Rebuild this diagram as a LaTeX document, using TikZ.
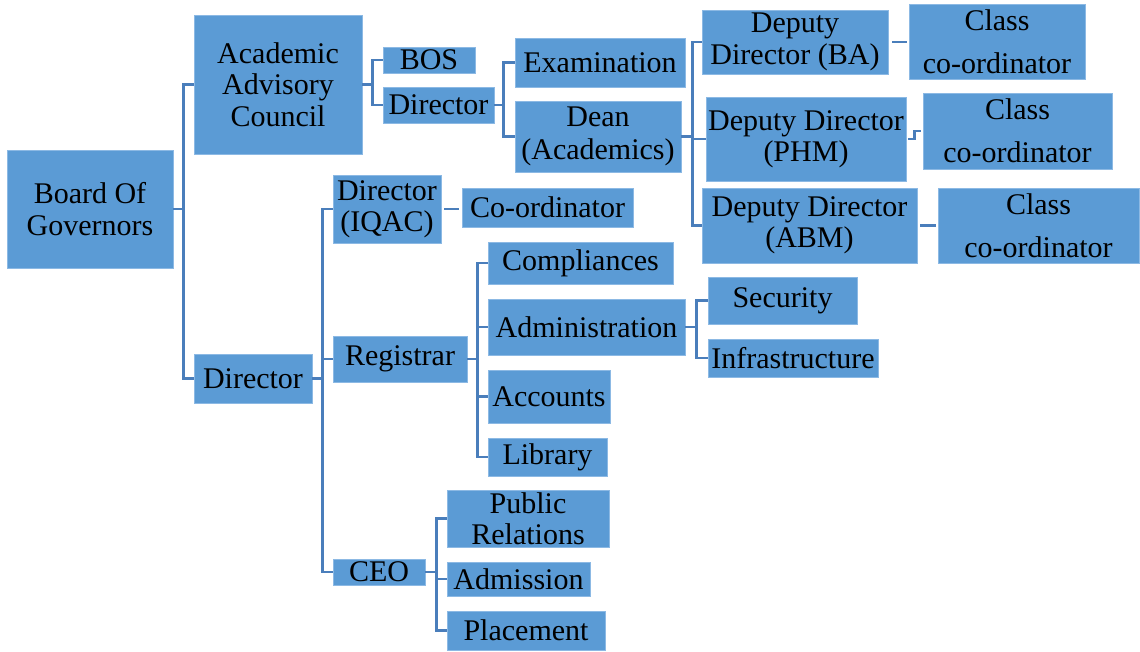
\documentclass[tikz,border=0pt]{standalone}
\usepackage{fontspec}
\setmainfont{Liberation Serif}
\definecolor{boxfill}{RGB}{91,155,213}
\definecolor{boxline}{RGB}{140,185,228}
\definecolor{connline}{RGB}{74,126,187}
\tikzset{
  orgbox/.style={rectangle, fill=boxfill, draw=boxline, line width=0.6pt, inner sep=0pt, align=center,
    font=\fontsize{22.5}{23.5}\selectfont, text=black},
  conn/.style={draw=connline, line width=2pt},
}
\newcommand\orgnode[6]{\node[orgbox, minimum width={(#4-#2)*0.75pt}, minimum height={(#5-#3)*0.75pt}] (#1) at ({(#2+#4)/2},{(#3+#5)/2}) {#6};}
\begin{document}
\begin{tikzpicture}[x=0.75pt,y=-0.75pt]
\useasboundingbox (0,0) rectangle (1140,651);
% nodes
\orgnode{bog}{7}{150}{173}{268}{Board Of\\Governors}
\orgnode{aac}{194}{15}{362}{154}{Academic\\Advisory\\Council}
\orgnode{dirl}{194}{354}{312}{403}{Director}
\orgnode{bos}{383}{47}{475}{73}{BOS}
\orgnode{diru}{383}{87}{494}{123}{Director}
\orgnode{exam}{515}{38}{685}{87}{Examination}
\orgnode{dean}{515}{101}{681}{172}{Dean\\[1.5pt](Academics)}
\orgnode{ba}{702}{10}{888}{74}{Deputy\\Director (BA)}
\orgnode{phm}{706}{97}{906}{181}{Deputy Director\\(PHM)}
\orgnode{abm}{702}{188}{917}{263}{Deputy Director\\(ABM)}
\orgnode{cc1}{909}{4}{1085}{79}{Class\\[9pt]co-ordinator}
\orgnode{cc2}{923}{93}{1112}{169}{Class\\[9pt]co-ordinator}
\orgnode{cc3}{938}{188}{1139}{263}{Class\\[9pt]co-ordinator}
\orgnode{iqac}{333}{175}{441}{243}{Director\\(IQAC)}
\orgnode{coord}{462}{188}{633}{227}{Co-ordinator}
\orgnode{reg}{333}{336}{467}{382}{Registrar}
\orgnode{comp}{488}{242}{673}{284}{Compliances}
\orgnode{admin}{488}{299}{685}{355}{Administration}
\orgnode{acc}{488}{370}{610}{423}{Accounts}
\orgnode{lib}{488}{438}{607}{476}{Library}
\orgnode{sec}{708}{277}{857}{324}{Security}
\orgnode{infra}{708}{339}{878}{377}{Infrastructure}
\orgnode{ceo}{333}{559}{425}{585}{CEO}
\orgnode{pr}{447}{490}{609}{547}{Public\\Relations}
\orgnode{adm}{447}{562}{590}{596}{Admission}
\orgnode{plc}{447}{611}{605}{650}{Placement}
% connectors
\draw[conn] (bog.east) -- ++(10,0) |- (aac.west);
\draw[conn] (bog.east) -- ++(10,0) |- (dirl.west);
\draw[conn] (aac.east) -- ++(10,0) |- (bos.west);
\draw[conn] (aac.east) -- ++(10,0) |- (diru.west);
\draw[conn] (diru.east) -- ++(9,0) |- (exam.west);
\draw[conn] (diru.east) -- ++(9,0) |- (dean.west);
\draw[conn] (dean.east) -- ++(11,0) |- (ba.west);
\draw[conn] (dean.east) -- ++(11,0) |- (phm.west);
\draw[conn] (dean.east) -- ++(11,0) |- (abm.west);
\draw[conn, shorten <=3pt, shorten >=1.5pt] (ba.east) -- (ba.east -| cc1.west);
\draw[conn, shorten <=1.5pt, shorten >=1pt] (phm.east) -- ++(8,0) |- (cc2.west);
\draw[conn, shorten <=2pt, shorten >=1.5pt] (abm.east) -- (abm.east -| cc3.west);
\draw[conn] (dirl.east) -- ++(10,0) |- (iqac.west);
\draw[conn] (dirl.east) -- ++(10,0) |- (reg.west);
\draw[conn] (dirl.east) -- ++(10,0) |- (ceo.west);
\draw[conn, shorten <=2pt, shorten >=2pt] (iqac.east) -- (iqac.east -| coord.west);
\draw[conn] (reg.east) -- ++(10,0) |- (comp.west);
\draw[conn] (reg.east) -- ++(10,0) |- (admin.west);
\draw[conn] (reg.east) -- ++(10,0) |- (acc.west);
\draw[conn] (reg.east) -- ++(10,0) |- (lib.west);
\draw[conn] (admin.east) -- ++(11,0) |- (sec.west);
\draw[conn] (admin.east) -- ++(11,0) |- (infra.west);
\draw[conn] (ceo.east) -- ++(11,0) |- (pr.west);
\draw[conn] (ceo.east) -- ++(11,0) |- (adm.west);
\draw[conn] (ceo.east) -- ++(11,0) |- (plc.west);
\end{tikzpicture}
\end{document}
